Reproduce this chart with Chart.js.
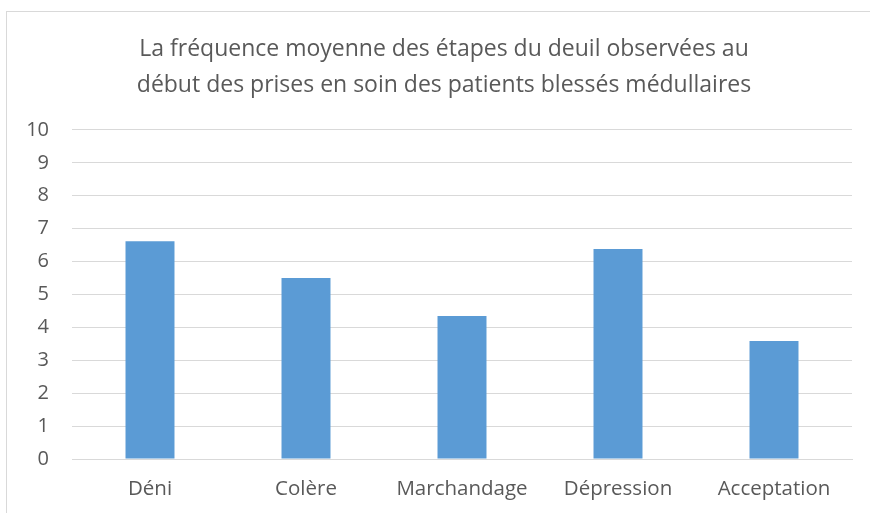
<!DOCTYPE html>
<html>
<head>
<meta charset="utf-8">
<script src="https://cdn.jsdelivr.net/npm/chart.js@4"></script>
<style>
  html, body { margin: 0; padding: 0; background: #fff; }
  #wrap { position: relative; width: 870px; height: 513px; overflow: hidden; }
  #frame { position: absolute; left: 6px; top: 11px; width: 900px; height: 600px; border: 1px solid #d9d9d9; box-sizing: border-box; }
  canvas { position: absolute; left: 0; top: 0; }
</style>
</head>
<body>
<div id="wrap">
  <div id="frame"></div>
  <canvas id="barChart" width="870" height="513"></canvas>
</div>
<script>
// données
const titre = [
  "La fréquence moyenne des étapes du deuil observées au",
  "début des prises en soin des patients blessés médullaires"
];
const etapes = ["Déni", "Colère", "Marchandage", "Dépression", "Acceptation"];
const frequences = [6.62, 5.5, 4.35, 6.38, 3.59];
const yMin = 0;
const yMax = 10;
const yPas = 1;

const gris = "#595959";
const police = "'Open Sans', Lato, sans-serif";

const ctx = document.getElementById("barChart").getContext("2d");
new Chart(ctx, {
  type: "bar",
  data: {
    labels: etapes,
    datasets: [{
      data: frequences,
      backgroundColor: "#5b9bd5",
      borderWidth: 0,
      barPercentage: 0.314,
      categoryPercentage: 1
    }]
  },
  options: {
    responsive: false,
    animation: false,
    layout: { padding: { left: 18, right: 0, top: 0, bottom: 0 } },
    plugins: {
      legend: { display: false },
      tooltip: { enabled: false },
      title: {
        display: true,
        text: titre,
        color: gris,
        font: { family: police, size: 23, weight: "normal", lineHeight: 1.565 },
        padding: { top: 31, bottom: 27 }
      }
    },
    scales: {
      x: {
        afterFit: s => { s.height = 54; },
        grid: { display: false, drawTicks: false },
        border: { color: "#d9d9d9", width: 1 },
        ticks: { color: gris, font: { family: police, size: 20.5 }, padding: 18, maxRotation: 0 }
      },
      y: {
        min: yMin,
        max: yMax,
        afterFit: s => { s.width = 54; },
        grid: { color: "#d9d9d9", lineWidth: 1, drawTicks: false },
        border: { display: false },
        ticks: { stepSize: yPas, color: gris, font: { family: police, size: 20 }, padding: 23 }
      },
      // axe vide à droite, juste pour la marge
      y2: {
        position: "right",
        afterFit: s => { s.width = 18; },
        grid: { display: false, drawTicks: false },
        border: { display: false },
        ticks: { display: false }
      }
    }
  }
});
</script>
</body>
</html>
